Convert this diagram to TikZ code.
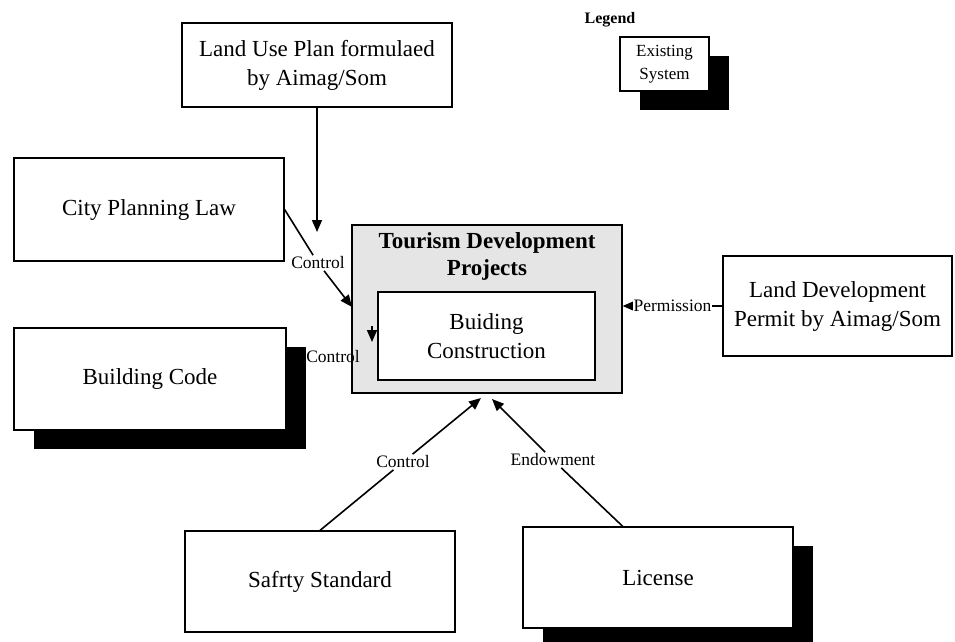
\documentclass[tikz,border=0pt]{standalone}
\usepackage{fontspec}
\setmainfont{Liberation Serif}
\usetikzlibrary{arrows.meta,shadows,calc}
\begin{document}
\begin{tikzpicture}[x=1pt,y=-1pt,
  box/.style={draw=black, line width=1.2pt, fill=white, align=center, inner sep=0pt,
    font=\fontsize{23}{29}\selectfont},
  shad/.style={general shadow={fill=black, shadow xshift=20pt, shadow yshift=-19pt}},
  lab/.style={font=\fontsize{17.5}{20}\selectfont, inner sep=1.5pt},
  conn/.style={line width=1.6pt},
  arr/.style={conn, -{Triangle[length=12pt,width=10pt]}},
]
\useasboundingbox (0,0) rectangle (955,641);

% legend
\node[font=\bfseries\fontsize{16}{18}\selectfont] (leg) at (610,20) {Legend};
\node[box, shad, minimum width=89pt, minimum height=54pt,
      font=\fontsize{17}{23}\selectfont] (legbox) at (664.5,64) {Existing\\System};

% boxes
\node[box, minimum width=270pt, minimum height=84pt] (lup) at (317,65)
  {Land Use Plan formulaed\\by Aimag/Som};
\node[box, minimum width=270pt, minimum height=103pt] (cpl) at (149,209.5)
  {City Planning Law};
\node[box, shad, minimum width=272pt, minimum height=102pt] (bcode) at (150,379)
  {Building Code};
\node[box, minimum width=229pt, minimum height=100pt] (ldp) at (837.5,306)
  {Land Development\\Permit by Aimag/Som};
\node[box, minimum width=270pt, minimum height=101pt] (ss) at (320,581.5)
  {Safrty Standard};
\node[box, shad, minimum width=270pt, minimum height=101pt] (lic) at (658,577.5)
  {License};

% central
\node[draw=black, line width=1.2pt, fill=black!10, minimum width=270pt,
      minimum height=168pt, inner sep=0pt] (tdp) at (487,309) {};
\node[align=center, font=\bfseries\fontsize{23}{27}\selectfont, inner sep=0pt]
  (tdpt) at (487,256) {Tourism Development\\Projects};
\node[box, minimum width=217pt, minimum height=88pt] (bc) at (486.5,336)
  {Buiding\\Construction};

% labels
\node[lab] (ctl1) at (318,263) {Control};
\node[lab] (ctl2) at (333,357) {Control};
\node[lab] (ctl3) at (403,462) {Control};
\node[lab] (endow) at (553,460) {Endowment};

% coordinates
\coordinate (lupend) at (317,232);
\coordinate (ctl1tip) at (352,307);
\coordinate (ctl2a) at (372,326);
\coordinate (ctl2b) at (372,342);
\coordinate (tipA) at (481,398);
\coordinate (tipB) at (492,399);

% connectors
\draw[arr] (lup.south) -- (lupend);
\draw[conn] (cpl.east) -- (ctl1);
\draw[arr] (ctl1) -- (ctl1tip);
\draw[arr] (ctl2a) -- (ctl2b);
\draw[arr] (ldp.west) -- node[lab, fill=white, inner sep=0.5pt] {Permission} (tdp.east |- ldp.west);
\draw[conn] (ss.north) -- (ctl3);
\draw[arr] (ctl3) -- (tipA);
\draw[conn] ($(lic.north west)!0.37!(lic.north east)$) -- (endow);
\draw[arr] (endow) -- (tipB);
\end{tikzpicture}
\end{document}
